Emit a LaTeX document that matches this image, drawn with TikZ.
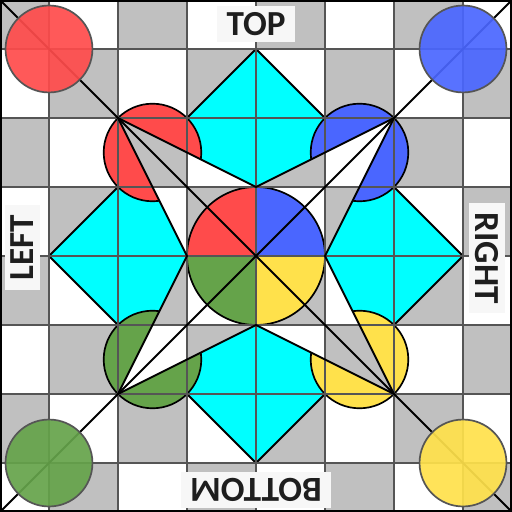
\documentclass[tikz,border=0pt]{standalone}
\usepackage{fontspec}
\setsansfont{Carlito}
\usetikzlibrary{positioning}
\definecolor{BoardGray}{RGB}{192,192,192}
\definecolor{GridLine}{RGB}{85,85,85}
\definecolor{DiamondCyan}{RGB}{0,255,255}
\definecolor{PieceRed}{RGB}{255,75,75}
\definecolor{PieceBlue}{RGB}{74,102,255}
\definecolor{PieceGreen}{RGB}{101,163,74}
\definecolor{PieceYellow}{RGB}{255,225,75}
\definecolor{LabelBand}{RGB}{247,247,247}
\definecolor{LabelInk}{RGB}{30,30,30}
\tikzset{
  gridline/.style={draw=GridLine,line width=0.6pt},
  darkline/.style={draw=black,line width=0.8pt},
  cell/.style={fill=BoardGray},
  piece/.style={draw=black,line width=0.7pt},
  cornerpiece/.style={draw=GridLine,line width=0.7pt,fill opacity=0.92},
  sidelabel/.style={fill=LabelBand,text=LabelInk,inner xsep=4pt,inner ysep=2.5pt,
    font=\sffamily\bfseries\fontsize{14.5}{16}\selectfont}
}
\newcommand{\drawboard}{%
  \fill[white] (-3.71,-3.71) rectangle (3.71,3.71);
  \foreach \i in {-4,...,3}
    \foreach \j in {-4,...,3} {
      \pgfmathtruncatemacro{\odd}{mod(\i+\j+8,2)}
      \ifnum\odd=1 \fill[cell] (\i,\j) rectangle ++(1,1); \fi
    }
}

\begin{document}
\begin{tikzpicture}
  \useasboundingbox (-3.71,-3.71) rectangle (3.71,3.71);
  \clip (-3.71,-3.71) rectangle (3.71,3.71);
  \coordinate (nw) at (-3.71,3.71);
  \coordinate (ne) at (3.71,3.71);
  \coordinate (sw) at (-3.71,-3.71);
  \coordinate (se) at (3.71,-3.71);
  % star points
  \coordinate (s1) at (-2,2);
  \coordinate (s2) at (0,1);
  \coordinate (s3) at (2,2);
  \coordinate (s4) at (1,0);
  \coordinate (s5) at (2,-2);
  \coordinate (s6) at (0,-1);
  \coordinate (s7) at (-2,-2);
  \coordinate (s8) at (-1,0);
  \drawboard
  % cyan diamond
  \filldraw[darkline,fill=DiamondCyan] (0,3) -- (3,0) -- (0,-3) -- (-3,0) -- cycle;
  % small circles
  \foreach \x/\y/\c in {-1.5/1.5/PieceRed,1.5/1.5/PieceBlue,-1.5/-1.5/PieceGreen,1.5/-1.5/PieceYellow}
    \filldraw[piece,fill=\c] (\x,\y) circle[radius=0.7071];
  % star cut-out
  \begin{scope}
    \clip (s1) -- (s2) -- (s3) -- (s4) -- (s5) -- (s6) -- (s7) -- (s8) -- cycle;
    \drawboard
  \end{scope}
  % centre circle
  \foreach \a/\c in {0/PieceBlue,90/PieceRed,180/PieceGreen,270/PieceYellow}
    \fill[\c] (0,0) -- (\a:1) arc[start angle=\a,delta angle=90,radius=1] -- cycle;
  \draw[piece] (0,0) circle[radius=1];
  % grid
  \foreach \k in {-3,...,3} {
    \draw[gridline] (\k,-3.71) -- (\k,3.71);
    \draw[gridline] (-3.71,\k) -- (3.71,\k);
  }
  \draw[darkline] (nw) -- (se);
  \draw[darkline] (ne) -- (sw);
  \draw[darkline] (s1) -- (s2) -- (s3) -- (s4) -- (s5) -- (s6) -- (s7) -- (s8) -- cycle;
  % corner circles
  \foreach \x/\y/\c in {-3/3/PieceRed,3/3/PieceBlue,-3/-3/PieceGreen,3/-3/PieceYellow}
    \filldraw[cornerpiece,fill=\c] (\x,\y) circle[radius=0.63];
  \draw[black,line width=0.8pt] (-3.69,-3.69) rectangle (3.69,3.69);
  % labels
  \node[sidelabel] (top) at (0,3.36) {TOP};
  \node[sidelabel,rotate=180] (bottom) at (0,-3.39) {BOTTOM};
  \node[sidelabel,rotate=90] (left) at (-3.39,0.12) {LEFT};
  \node[sidelabel,rotate=-90] (right) at (3.35,-0.03) {RIGHT};
\end{tikzpicture}
\end{document}
